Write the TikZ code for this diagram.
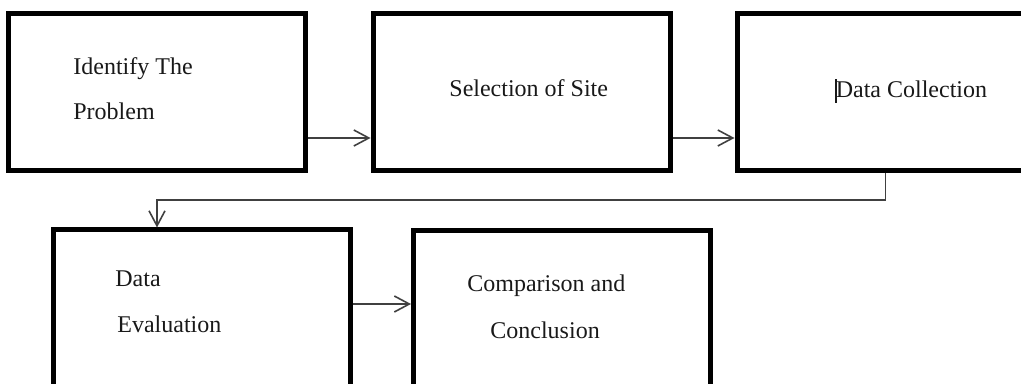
\documentclass[tikz,border=0pt]{standalone}
\usepackage{fontspec}
\setmainfont{Liberation Serif}
\usetikzlibrary{arrows.meta, positioning}

\begin{document}
\begin{tikzpicture}[x=0.5pt, y=-0.5pt,
    stepbox/.style={draw, line width=2.5pt, minimum width=148.5pt, minimum height=78.5pt, inner sep=0pt},
    steptext/.style={anchor=base west, inner sep=0pt, font=\fontsize{12}{14}\selectfont, text=black!90},
    flow/.style={draw=black!75, line width=0.8pt, -{Straight Barb[length=7.5pt, width=8pt, line width=0.8pt]}}]
    \useasboundingbox (0,0) rectangle (1021,384);
    \clip (0,0) rectangle (1021,384);

    % Boxes
    \node[stepbox] (ip) at (157,92.5) {};
    \node[stepbox] (ss) at (521.5,92.5) {};
    \node[stepbox] (dc) at (885.5,92.5) {};
    \node[stepbox] (de) at (201.5,308.5) {};
    \node[stepbox] (cc) at (562,309.5) {};

    % Texts
    \node[steptext] (ip1) at (73,75) {Identify The};
    \node[steptext] (ip2) at (73,120) {Problem};
    \node[steptext] (ss1) at (449,97) {Selection of Site};
    \node[steptext] (dc1) at (835,98) {\rule[-2.5pt]{0.8pt}{12pt}\kern-0.6pt Data Collection};
    \node[steptext] (de1) at (115,287) {Data};
    \node[steptext] (de2) at (117,333) {Evaluation};
    \node[steptext] (cc1) at (467,292) {Comparison and};
    \node[steptext] (cc2) at (490,338) {Conclusion};

    % Connectors
    \draw[flow] ([yshift=-22.75pt]ip.east) -- ([yshift=-22.75pt]ss.west);
    \draw[flow] ([yshift=-22.75pt]ss.east) -- ([yshift=-22.75pt]dc.west);
    \coordinate (turn) at (157,200);
    \draw[flow] (dc.south) |- (turn) -- (turn |- de.north);
    \coordinate (mid) at ([yshift=2.25pt]de.east);
    \draw[flow] (mid) -- (mid -| cc.west);
\end{tikzpicture}
\end{document}
